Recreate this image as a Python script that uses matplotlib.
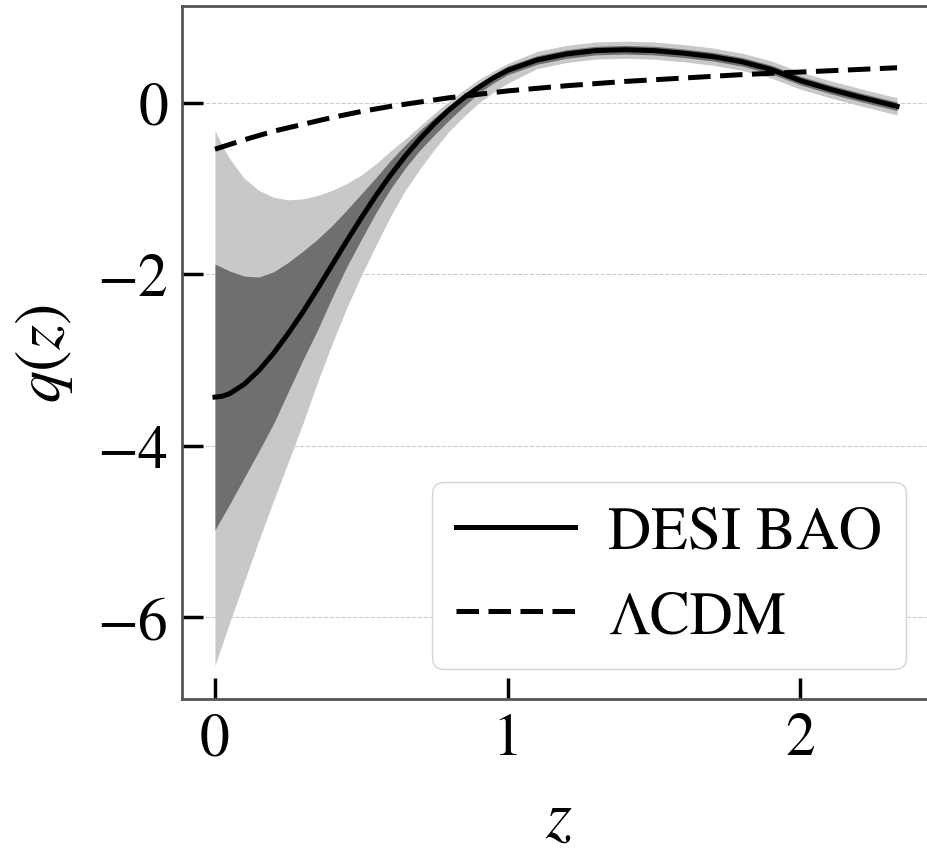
import numpy as np
import matplotlib
matplotlib.use("Agg")
import matplotlib.pyplot as plt

plt.rcParams["font.family"] = ["STIXGeneral", "DejaVu Serif"]
plt.rcParams["mathtext.fontset"] = "stix"

# Redshift grid and reconstructed q(z)
z = [0.0, 0.025, 0.05, 0.1, 0.15, 0.2, 0.25, 0.3, 0.35, 0.4, 0.45, 0.5, 0.55,
     0.6, 0.65, 0.7, 0.75, 0.8, 0.85, 0.9, 0.95, 1.0, 1.1, 1.2, 1.3, 1.4,
     1.5, 1.6, 1.7, 1.8, 1.9, 2.0, 2.1, 2.2, 2.33]

q_mean = [-3.43, -3.42, -3.39, -3.28, -3.12, -2.92, -2.69, -2.44, -2.17, -1.89,
          -1.61, -1.34, -1.08, -0.84, -0.62, -0.42, -0.24, -0.08, 0.06, 0.18,
          0.29, 0.38, 0.50, 0.57, 0.61, 0.62, 0.61, 0.58, 0.54, 0.48, 0.39,
          0.26, 0.16, 0.07, -0.04]

q_1s_hi = [-1.88, -1.92, -1.96, -2.02, -2.03, -1.97, -1.86, -1.73, -1.59, -1.43,
           -1.25, -1.06, -0.87, -0.67, -0.49, -0.32, -0.17, -0.03, 0.10, 0.22,
           0.33, 0.43, 0.55, 0.62, 0.66, 0.67, 0.66, 0.63, 0.59, 0.53, 0.44,
           0.31, 0.21, 0.12, 0.01]
q_1s_lo = [-4.98, -4.83, -4.68, -4.37, -4.06, -3.74, -3.37, -3.00, -2.65, -2.27,
           -1.91, -1.59, -1.28, -1.00, -0.76, -0.55, -0.37, -0.20, -0.04, 0.11,
           0.23, 0.33, 0.45, 0.52, 0.56, 0.57, 0.56, 0.53, 0.49, 0.43, 0.34,
           0.21, 0.11, 0.02, -0.09]

q_2s_hi = [-0.32, -0.50, -0.65, -0.88, -1.02, -1.10, -1.13, -1.12, -1.08, -1.02,
           -0.94, -0.84, -0.71, -0.56, -0.42, -0.27, -0.12, 0.02, 0.15, 0.27,
           0.37, 0.46, 0.60, 0.67, 0.71, 0.72, 0.71, 0.68, 0.64, 0.58, 0.49,
           0.36, 0.26, 0.17, 0.06]
q_2s_lo = [-6.56, -6.31, -6.06, -5.58, -5.10, -4.64, -4.19, -3.74, -3.26, -2.81,
           -2.39, -2.01, -1.66, -1.32, -1.02, -0.77, -0.54, -0.33, -0.16, 0.00,
           0.12, 0.23, 0.40, 0.47, 0.51, 0.52, 0.51, 0.48, 0.44, 0.38, 0.29,
           0.16, 0.06, -0.03, -0.14]

# LCDM reference curve
z_lcdm = [0.0, 0.1, 0.2, 0.3, 0.4, 0.5, 0.6, 0.7, 0.8, 0.9, 1.0, 1.2, 1.4,
          1.6, 1.8, 2.0, 2.2, 2.33]
q_lcdm = [-0.54, -0.43, -0.33, -0.25, -0.17, -0.10, -0.04, 0.01, 0.06, 0.10,
          0.14, 0.20, 0.25, 0.29, 0.33, 0.36, 0.39, 0.41]

fig = plt.figure(figsize=(9.28, 8.53), dpi=100)
# right spine falls just outside the saved image, as in the original
ax = fig.add_axes([0.196, 0.1794, 0.812, 0.8124])

ax.fill_between(z, q_2s_lo, q_2s_hi, color="#c8c8c8", lw=0, zorder=1)
ax.fill_between(z, q_1s_lo, q_1s_hi, color="#6f6f6f", lw=0, zorder=2)
ax.plot(z, q_mean, color="black", lw=3.6, label="DESI BAO", zorder=3)
ax.plot(z_lcdm, q_lcdm, color="black", lw=3.6, ls=(0, (4.5, 1.9)),
        label="ΛCDM", zorder=4)

ax.set_xlim(-0.113, 2.461)
ax.set_ylim(-6.95, 1.13)
ax.set_xticks([0, 1, 2])
ax.set_yticks([-6, -4, -2, 0])

ax.grid(axis="y", color="#cccccc", ls="--", lw=0.8, zorder=0)
ax.set_axisbelow(True)

ax.tick_params(direction="in", length=15, width=2.5, labelsize=43,
               pad=10, top=False, right=False)
for s in ax.spines.values():
    s.set_color("#555555")
    s.set_linewidth(2)

ax.set_xlabel(r"$z$", fontsize=48, labelpad=16)
ax.set_ylabel(r"$q(z)$", fontsize=46, labelpad=16)

leg = ax.legend(loc="lower right", fontsize=43, frameon=True, fancybox=True,
                edgecolor="#d5d5d5", framealpha=1.0, borderaxespad=0.5,
                handlelength=2.0, handletextpad=0.55)
leg.get_frame().set_linewidth(1.0)

fig.savefig("out.png", dpi=100)
